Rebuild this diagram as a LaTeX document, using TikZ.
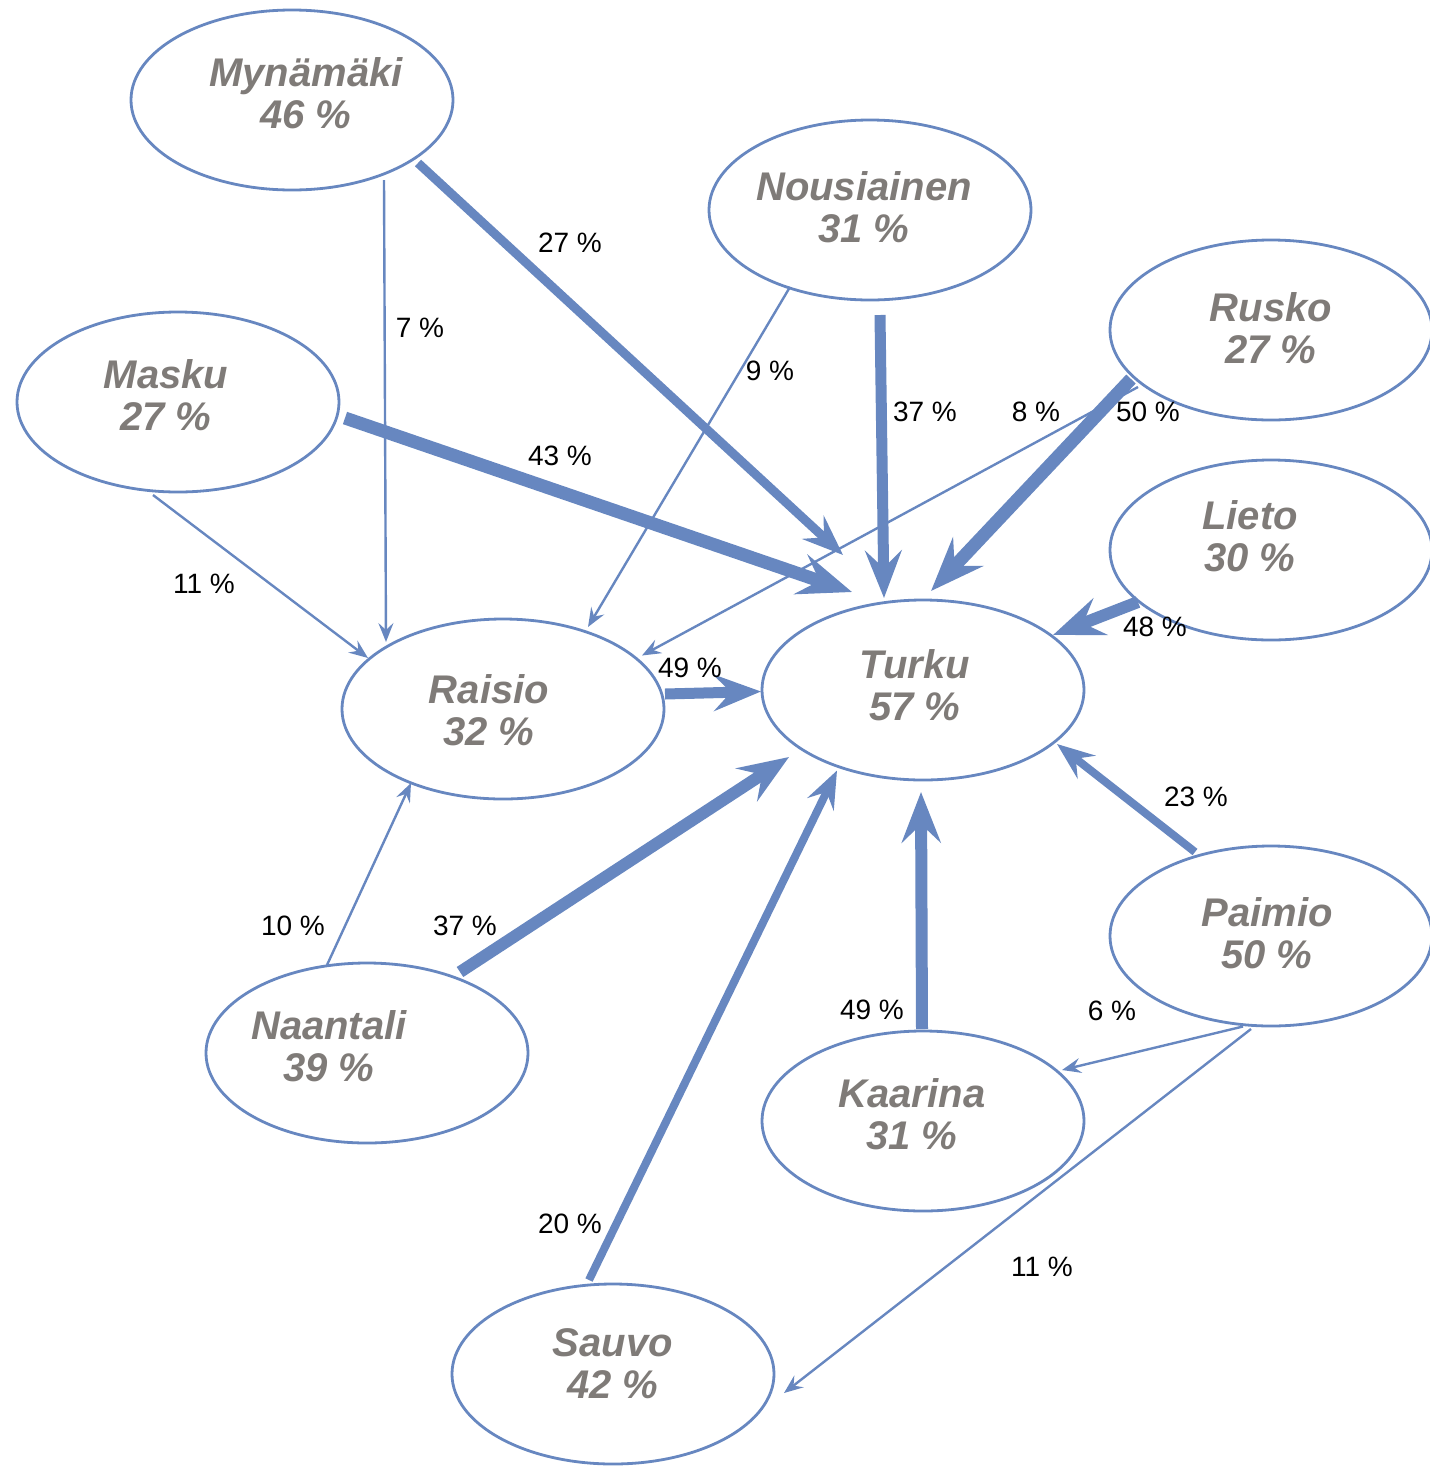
\documentclass[tikz,border=0pt]{standalone}
\usepackage{fontspec}
\setmainfont{Liberation Sans}
\usetikzlibrary{arrows.meta,calc,shapes.geometric}
\definecolor{flowblue}{HTML}{6787C0}
\definecolor{towngrey}{HTML}{7F7B78}
\begin{document}
\begin{tikzpicture}[x=1pt,y=-1pt,
  town/.style={ellipse,draw=flowblue,line width=2.8pt,minimum width=322pt,
    minimum height=180pt,inner sep=0pt},
  townname/.style={text=towngrey,font=\fontsize{40}{42}\selectfont\bfseries\itshape,
    align=center,inner sep=0pt},
  flow/.style={draw=flowblue,line width=#1,
    -{Stealth[length=11pt 3.3,width=9pt 2.5,inset=4pt 1.2]}},
  share/.style={font=\fontsize{28}{30}\selectfont,text=black,inner sep=0pt}]
\useasboundingbox (0,0) rectangle (1430,1468);

% municipalities
\node[town] (mynamaki)   at (292,100)  {};
\node[town] (nousiainen) at (870,210)  {};
\node[town] (rusko)      at (1271,330) {};
\node[town] (masku)      at (178,402)  {};
\node[town] (lieto)      at (1271,550) {};
\node[town] (turku)      at (923,690)  {};
\node[town] (raisio)     at (503,709)  {};
\node[town] (paimio)     at (1271,936) {};
\node[town] (naantali)   at (367,1053) {};
\node[town] (kaarina)    at (923,1121) {};
\node[town] (sauvo)      at (613,1374) {};

\node[townname] (mynamaki-t)   at (306,93)   {Mynämäki\\46 \%};
\node[townname] (nousiainen-t) at (864,207)  {Nousiainen\\31 \%};
\node[townname] (rusko-t)      at (1271,328) {Rusko\\27 \%};
\node[townname] (masku-t)      at (166,395)  {Masku\\27 \%};
\node[townname] (lieto-t)      at (1250,536) {Lieto\\30 \%};
\node[townname] (turku-t)      at (915,685)  {Turku\\57 \%};
\node[townname] (raisio-t)     at (489,710)  {Raisio\\32 \%};
\node[townname] (paimio-t)     at (1267,933) {Paimio\\50 \%};
\node[townname] (naantali-t)   at (329,1046) {Naantali\\39 \%};
\node[townname] (kaarina-t)    at (912,1114) {Kaarina\\31 \%};
\node[townname] (sauvo-t)      at (613,1364) {Sauvo\\42 \%};

% commuting flows
\draw[flow=9pt]   ($(mynamaki)+(126,63)$)   -- ($(turku)+(-80,-135)$);
\draw[flow=2.4pt] ($(mynamaki)+(92,80)$)    -- ($(raisio)+(-117,-67)$);
\draw[flow=2.4pt] ($(nousiainen)+(-80,77)$) -- ($(raisio)+(85,-82)$);
\draw[flow=11pt]  ($(nousiainen)+(10,105)$) -- ($(turku)+(-39,-92)$);
\draw[flow=2.4pt] ($(rusko)+(-133,57)$)     -- ($(raisio)+(139,-53.5)$);
\draw[flow=13pt]  ($(rusko)+(-140,49)$)     -- ($(turku)+(8,-99)$);
\draw[flow=13pt]  ($(masku)+(167,16)$)      -- ($(turku)+(-71,-98)$);
\draw[flow=2.4pt] ($(masku)+(-25,93)$)      -- ($(raisio)+(-135,-51)$);
\draw[flow=12pt]  ($(lieto)+(-133,52)$)     -- ($(turku)+(130,-55)$);
\draw[flow=11pt]  ($(raisio)+(162,-15)$)    -- ($(turku)+(-162,1.5)$);
\draw[flow=2.4pt] ($(naantali)+(-40,-88)$)  -- ($(raisio)+(-92,74)$);
\draw[flow=12pt]  ($(naantali)+(93,-81)$)   -- ($(turku)+(-134,67)$);
\draw[flow=8pt]   ($(sauvo)+(-24,-94)$)     -- ($(turku)+(-86,80.5)$);
\draw[flow=12pt]  ($(kaarina)+(-1,-92)$)    -- ($(turku)+(-2,102)$);
\draw[flow=8pt]   ($(paimio)+(-76,-84)$)    -- ($(turku)+(134,54)$);
\draw[flow=2.4pt] ($(paimio)+(-28,90.5)$)   -- ($(kaarina)+(139,-51)$);
\draw[flow=2.4pt] ($(paimio)+(-20,93)$)     -- ($(sauvo)+(171,19)$);

% shares
\node[share] (s-myn-tur) at (570,243)  {27 \%};
\node[share] (s-myn-rai) at (420,328)  {7 \%};
\node[share] (s-nou-rai) at (770,371)  {9 \%};
\node[share] (s-nou-tur) at (925,412)  {37 \%};
\node[share] (s-rus-rai) at (1036,412) {8 \%};
\node[share] (s-rus-tur) at (1148,412) {50 \%};
\node[share] (s-mas-tur) at (560,456)  {43 \%};
\node[share] (s-mas-rai) at (204,584)  {11 \%};
\node[share] (s-lie-tur) at (1155,627) {48 \%};
\node[share] (s-rai-tur) at (690,668)  {49 \%};
\node[share] (s-naa-rai) at (293,926)  {10 \%};
\node[share] (s-naa-tur) at (465,926)  {37 \%};
\node[share] (s-sau-tur) at (570,1224) {20 \%};
\node[share] (s-kaa-tur) at (872,1010) {49 \%};
\node[share] (s-pai-tur) at (1196,797) {23 \%};
\node[share] (s-pai-kaa) at (1112,1011) {6 \%};
\node[share] (s-pai-sau) at (1042,1267) {11 \%};
\end{tikzpicture}
\end{document}
